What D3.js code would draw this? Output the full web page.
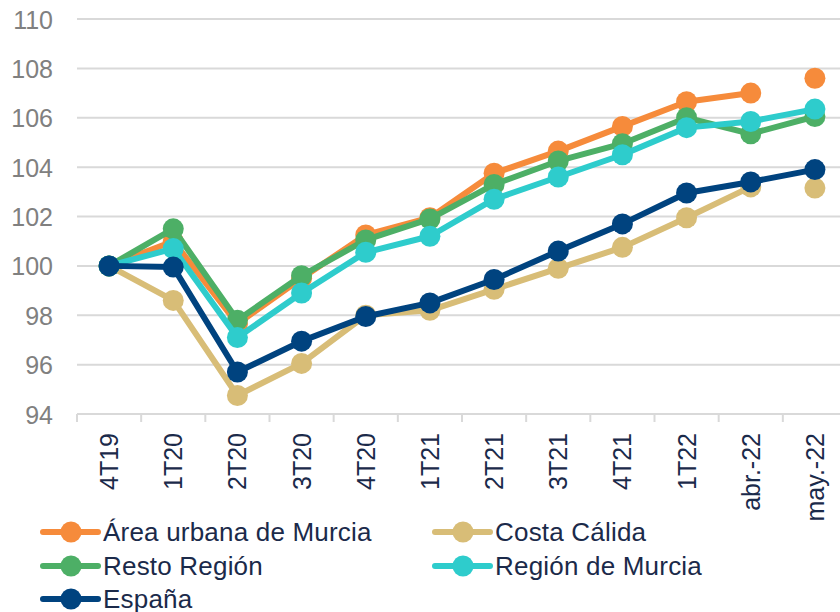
<!DOCTYPE html>
<html>
<head>
<meta charset="utf-8">
<script src="https://cdn.jsdelivr.net/npm/d3@7"></script>
<style>
  html, body { margin: 0; padding: 0; background: #ffffff; }
  svg { display: block; font-family: "Liberation Sans", Arial, sans-serif; }
</style>
</head>
<body>
<svg id="chart" width="840" height="612"></svg>
<script>
// ---- data ----
const categories = ["4T19", "1T20", "2T20", "3T20", "4T20", "1T21", "2T21", "3T21", "4T21", "1T22", "abr.-22", "may.-22"];
const seriesNames = ["Área urbana de Murcia", "Costa Cálida", "Resto Región", "Región de Murcia", "España"];
const areaUrbana   = [100, 101.0, 97.65, 99.5, 101.25, 101.95, 103.75, 104.65, 105.65, 106.65, 107.0, 107.6];
const costaCalida  = [100, 98.6, 94.75, 96.05, 98.0, 98.2, 99.05, 99.9, 100.75, 101.95, 103.2, 103.15];
const restoRegion  = [100, 101.5, 97.8, 99.6, 101.05, 101.9, 103.3, 104.25, 104.95, 106.0, 105.35, 106.05];
const regionMurcia = [100, 100.7, 97.1, 98.9, 100.55, 101.2, 102.7, 103.6, 104.5, 105.6, 105.85, 106.35];
const espana       = [100, 99.95, 95.7, 96.95, 97.95, 98.5, 99.45, 100.6, 101.7, 102.95, 103.4, 103.9];
const yTicks = [94, 96, 98, 100, 102, 104, 106, 108, 110];
// series whose line is not drawn into the last point (may.-22 shown as a lone dot)
const lastPointDetached = ["Área urbana de Murcia", "Costa Cálida"];

const colors = ["#F68B3B", "#D8BD77", "#4DAF66", "#2ECCCC", "#00437F"];
const seriesValues = [areaUrbana, costaCalida, restoRegion, regionMurcia, espana];

// ---- layout ----
const svg = d3.select("#chart");
const plotLeft = 77, plotRight = 847, plotTop = 19, plotBottom = 414;

const x = d3.scaleBand().domain(categories).range([plotLeft, plotRight]).padding(0);
const y = d3.scaleLinear().domain([94, 110]).range([plotBottom, plotTop]);
const cx = c => x(c) + x.bandwidth() / 2;

// grid lines
svg.append("g").selectAll("line").data(yTicks.filter(t => t !== 94)).join("line")
  .attr("x1", plotLeft).attr("x2", 840)
  .attr("y1", d => y(d)).attr("y2", d => y(d))
  .attr("stroke", "#d9d9d9").attr("stroke-width", 2);

// y axis labels
const yAxis = d3.axisLeft(y).tickValues(yTicks).tickSize(0).tickPadding(0).tickFormat(d3.format("d"));
const gy = svg.append("g").attr("transform", `translate(53,0)`).call(yAxis);
gy.select(".domain").remove();
gy.selectAll("text").attr("fill", "#808080").attr("font-size", 25)
  .attr("font-family", "'Liberation Sans', Arial, sans-serif").attr("dy", "0.36em");

// x axis
const xAxis = d3.axisBottom(x).tickSize(0).tickFormat(d => d);
const gx = svg.append("g").attr("transform", `translate(0,${plotBottom})`).call(xAxis);
gx.select(".domain").remove();
gx.selectAll(".tick line").remove();
gx.selectAll("text")
  .attr("fill", "#1B2A4A").attr("font-size", 25)
  .attr("font-family", "'Liberation Sans', Arial, sans-serif")
  .attr("text-anchor", "end")
  .attr("transform", "translate(0,19) rotate(-90)")
  .attr("x", 0).attr("y", 0).attr("dy", "0.36em");

svg.append("line").attr("x1", plotLeft).attr("x2", 840)
  .attr("y1", plotBottom).attr("y2", plotBottom)
  .attr("stroke", "#d9d9d9").attr("stroke-width", 2);
const boundaries = categories.map(c => x(c));
svg.append("g").selectAll("line").data(boundaries).join("line")
  .attr("x1", d => d).attr("x2", d => d)
  .attr("y1", plotBottom).attr("y2", plotBottom + 8)
  .attr("stroke", "#d9d9d9").attr("stroke-width", 2);

// series
const line = d3.line().x(d => cx(d.c)).y(d => y(d.v));
seriesNames.forEach((name, i) => {
  const pts = categories.map((c, j) => ({ c, v: seriesValues[i][j] }));
  const linePts = lastPointDetached.includes(name) ? pts.slice(0, -1) : pts;
  const g = svg.append("g");
  g.append("path").datum(linePts).attr("d", line)
    .attr("fill", "none").attr("stroke", colors[i]).attr("stroke-width", 6)
    .attr("stroke-linejoin", "round");
  g.selectAll("circle").data(pts).join("circle")
    .attr("cx", d => cx(d.c)).attr("cy", d => y(d.v)).attr("r", 10.5)
    .attr("fill", colors[i]);
});

// legend
const legendPos = [
  { x: 43, y: 532 }, { x: 435, y: 532 },
  { x: 43, y: 566 }, { x: 435, y: 566 },
  { x: 43, y: 599 }
];
seriesNames.forEach((name, i) => {
  const p = legendPos[i];
  const g = svg.append("g").attr("transform", `translate(${p.x},${p.y})`);
  g.append("line").attr("x1", 0).attr("x2", 55).attr("y1", 0).attr("y2", 0)
    .attr("stroke", colors[i]).attr("stroke-width", 6).attr("stroke-linecap", "round");
  g.append("circle").attr("cx", 28).attr("cy", 0).attr("r", 10.5).attr("fill", colors[i]);
  g.append("text").attr("x", 60).attr("y", 0).attr("dy", "0.35em")
    .attr("fill", "#1B2A4A").attr("font-size", 26).attr("letter-spacing", 0.2).text(name);
});
</script>
</body>
</html>
